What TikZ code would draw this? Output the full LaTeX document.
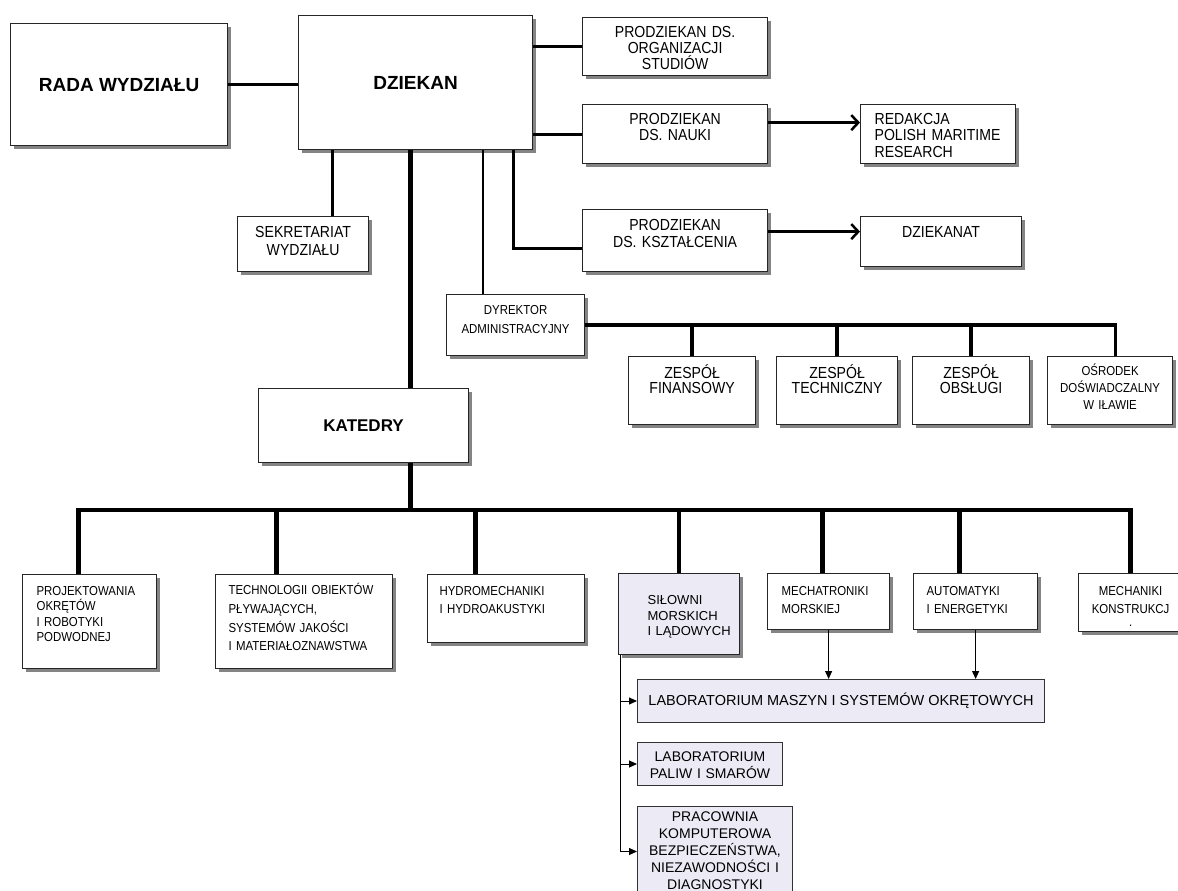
\documentclass[tikz,border=0pt]{standalone}
\usepackage{fontspec}
\setmainfont{Liberation Sans}
\newfontfamily\narrowfont[FakeStretch=0.88]{Liberation Sans}
\usetikzlibrary{arrows.meta,shadows}
\definecolor{lav}{RGB}{236,234,245}
\hyphenpenalty=10000
\begin{document}
\begin{tikzpicture}[x=1pt, y=-1pt,
  box/.style={draw=black!85, line width=1.2pt, fill=white, inner sep=0pt, anchor=north west,
    drop shadow={shadow xshift=3pt, shadow yshift=-3pt, fill=black!60, opacity=0.8}},
  cbox/.style={box, align=center},
  lbox/.style={box, align=left, inner xsep=#1},
  labbox/.style={draw=black!80, line width=1pt, fill=lav, inner sep=0pt, anchor=north west, align=center},
  head/.style={font=\bfseries\fontsize{#1}{#1}\selectfont},
  txt/.style 2 args={font=\narrowfont\fontsize{#1}{#2}\selectfont},
  link/.style={line width=3pt},
  bus/.style={line width=4.5pt},
  arr/.style={line width=2.5pt, -{Straight Barb[length=7pt,width=15pt]}},
  thinarr/.style={line width=1pt, -{Triangle[length=8pt,width=7pt]}}]
  \path[use as bounding box, fill=white] (0,0) rectangle (1178,891);
  \node (0) [cbox, head=19, minimum width=217pt, minimum height=122pt] at (10,23) {RADA WYDZIAŁU};
  \node (1) [cbox, head=19, minimum width=234pt, minimum height=134pt] at (298,15) {DZIEKAN};
  \node (2) [cbox, txt={16}{16}, text width=185pt, text height=20pt, text depth=38pt] at (582,17) {PRODZIEKAN DS.\\ORGANIZACJI\\STUDIÓW};
  \node (3) [cbox, txt={16}{16.7}, text width=185pt, text height=19.5pt, text depth=39.5pt] at (582,104) {PRODZIEKAN\\DS. NAUKI};
  \node (4) [lbox=14pt, txt={16}{16.7}, text width=127pt, text height=19.5pt, text depth=39.5pt] at (860,104) {REDAKCJA\\POLISH~MARITIME\\RESEARCH};
  \node (5) [cbox, txt={16}{16.7}, text width=185pt, text height=21pt, text depth=41pt] at (582,209) {PRODZIEKAN\\DS. KSZTAŁCENIA};
  \node (6) [cbox, txt={16}{16}, text width=161pt, text height=21pt, text depth=29pt] at (860,216) {DZIEKANAT};
  \node (7) [cbox, txt={16}{18.3}, text width=131pt, text height=21pt, text depth=34pt] at (237,216) {SEKRETARIAT\\WYDZIAŁU};
  \node (8) [cbox, txt={13}{19.3}, text width=138pt, text height=20pt, text depth=41pt] at (446,294) {DYREKTOR\\ADMINISTRACYJNY};
  \node (9) [cbox, txt={16}{15.7}, text width=127pt, text height=21.5pt, text depth=46.5pt] at (628,356) {ZESPÓŁ\\FINANSOWY};
  \node (10) [cbox, txt={16}{15.7}, text width=121pt, text height=21.5pt, text depth=46.5pt] at (776,356) {ZESPÓŁ\\TECHNICZNY};
  \node (11) [cbox, txt={16}{15.7}, text width=117pt, text height=21.5pt, text depth=46.5pt] at (912,356) {ZESPÓŁ\\OBSŁUGI};
  \node (12) [cbox, txt={13}{16.7}, text width=125pt, text height=19pt, text depth=49pt] at (1047,356) {OŚRODEK\\DOŚWIADCZALNY\\W IŁAWIE};
  \node (13) [cbox, head=17, minimum width=210pt, minimum height=74pt] at (258,388) {KATEDRY};
  \node (14) [lbox=14pt, txt={13}{15.3}, text width=106pt, text height=21pt, text depth=73pt] at (22,574) {PROJEKTOWANIA\\OKRĘTÓW\\I~ROBOTYKI\\PODWODNEJ};
  \node (15) [lbox=13pt, txt={13}{18.7}, text width=151pt, text height=20pt, text depth=74pt] at (215,574) {TECHNOLOGII~OBIEKTÓW\\PŁYWAJĄCYCH,\\SYSTEMÓW~JAKOŚCI\\I~MATERIAŁOZNAWSTWA};
  \node (16) [lbox=12pt, txt={13}{18.3}, text width=133pt, text height=20.5pt, text depth=47.5pt] at (427,574) {HYDROMECHANIKI\\I~HYDROAKUSTYKI};
  \node (17) [lbox=29pt, fill=lav, font=\fontsize{13}{15.5}\selectfont, text width=63pt, text height=31pt, text depth=50pt] at (618,573) {SIŁOWNI\\MORSKICH\\I~LĄDOWYCH};
  \node (18) [lbox=14pt, txt={13}{18.3}, text width=94pt, text height=21.5pt, text depth=34.5pt] at (767,573) {MECHATRONIKI\\MORSKIEJ};
  \node (19) [lbox=13pt, txt={13}{18.3}, text width=98pt, text height=21.5pt, text depth=34.5pt] at (913,573) {AUTOMATYKI\\I~ENERGETYKI};
  \node (20) [cbox, txt={13}{18.3}, text width=104pt, text height=21.5pt, text depth=36.5pt] at (1078,573) {MECHANIKI\\KONSTRUKCJ\\[-5pt].};
  \node (21) [labbox, font=\fontsize{14.5}{17}\selectfont, minimum width=407pt, minimum height=43pt] at (637,679) {LABORATORIUM MASZYN I SYSTEMÓW OKRĘTOWYCH};
  \node (22) [labbox, font=\fontsize{14}{17.6}\selectfont, text width=145pt, text height=18.7pt, text depth=24.3pt] at (637,742) {LABORATORIUM\\PALIW I SMARÓW};
  \node (23) [labbox, font=\fontsize{14}{17.1}\selectfont, text width=155pt, text height=15pt, text depth=75pt] at (637,806) {PRACOWNIA\\KOMPUTEROWA\\BEZPIECZEŃSTWA,\\NIEZAWODNOŚCI I\\DIAGNOSTYKI};
  \coordinate (bar) at (0,510);
  \draw[link] (0.east) -- (0.east -| 1.west);
  \draw[link] (1.east |- 2.west) -- (2.west);
  \draw[link] (1.east |- 3.west) -- (3.west);
  \draw[arr] ([yshift=11.5pt]3.east) -- ([yshift=11.5pt]3.east -| 4.west);
  \draw[arr] ([yshift=9pt]5.east) -- ([yshift=9pt]5.east -| 6.west);
  \draw[link] ([xshift=-83pt]1.south) -- ([xshift=-83pt]1.south |- 7.north);
  \draw[bus] ([xshift=-5pt]1.south) -- ([xshift=-5pt]1.south |- 13.north);
  \draw[line width=2.2pt] ([xshift=67pt]1.south) -- ([xshift=67pt]1.south |- 8.north);
  \draw[line width=2.8pt] ([xshift=98pt]1.south) |- ([yshift=-8pt]5.west);
  \draw[line width=3.5pt] (8.east) -| ([xshift=5.5pt]12.north);
  \draw[line width=3.5pt] (9.north |- 8.east) -- (9.north);
  \draw[line width=3.5pt] (10.north |- 8.east) -- (10.north);
  \draw[line width=3.5pt] (11.north |- 8.east) -- (11.north);
  \draw[bus] ([xshift=47pt]13.south) -- ([xshift=47pt]13.south |- bar);
  \draw[bus] ([xshift=-11pt]14.north) -- ([xshift=-11pt]14.north |- bar) -- (20.north |- bar) -- (20.north);
  \draw[bus] ([xshift=-27.5pt]15.north |- bar) -- ([xshift=-27.5pt]15.north);
  \draw[bus] ([xshift=-30.5pt]16.north |- bar) -- ([xshift=-30.5pt]16.north);
  \draw[bus] (17.north |- bar) -- (17.north);
  \draw[bus] ([xshift=-6pt]18.north |- bar) -- ([xshift=-6pt]18.north);
  \draw[bus] ([xshift=-16pt]19.north |- bar) -- ([xshift=-16pt]19.north);
  \draw[thinarr] ([xshift=2pt]17.south west) |- (21.west);
  \draw[thinarr] ([xshift=2pt]17.south west) |- (22.west);
  \draw[thinarr] ([xshift=2pt]17.south west) |- (23.west);
  \draw[thinarr] (18.south) -- (18.south |- 21.north);
  \draw[thinarr] (19.south) -- (19.south |- 21.north);
\end{tikzpicture}
\end{document}
